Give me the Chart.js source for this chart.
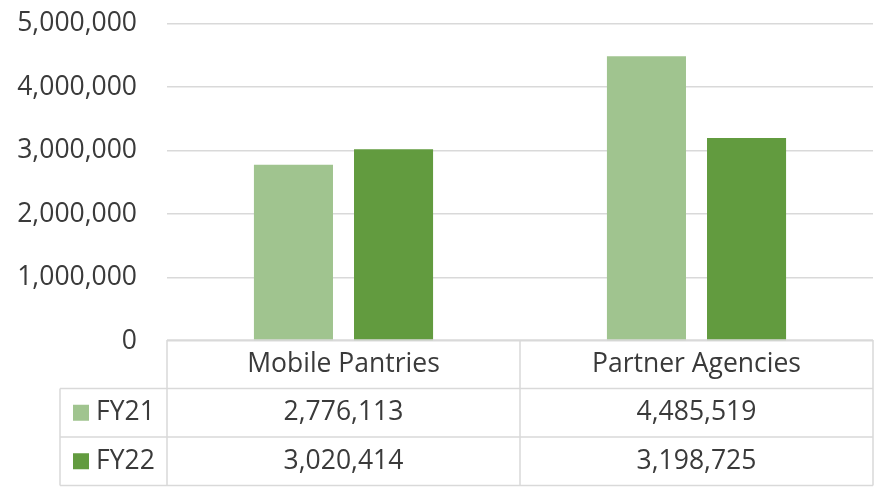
<!DOCTYPE html>
<html>
<head>
<meta charset="utf-8">
<script src="https://cdn.jsdelivr.net/npm/chart.js@4.4.1/dist/chart.umd.min.js"></script>
<style>
  html, body { margin: 0; padding: 0; background: #fff; }
  #wrap { width: 879px; height: 487px; position: relative; }
</style>
</head>
<body>
<div id="wrap"><canvas id="chart"></canvas></div>
<script>
// data
const categories = ['Mobile Pantries', 'Partner Agencies'];
const fy21 = [2776113, 4485519];
const fy22 = [3020414, 3198725];
const seriesNames = ['FY21', 'FY22'];
const colors = ['#a0c48f', '#629b3f'];
const yTicks = [0, 1000000, 2000000, 3000000, 4000000, 5000000];

const FONT = '"Open Sans", sans-serif';
const FSIZE = 26.5;
const TEXT = '#3a3a3a';
const LINE = '#d9d9d9';

// table under the plot (Excel data table)
const dataTable = {
  id: 'dataTable',
  afterDraw(chart) {
    const { ctx, chartArea } = chart;
    const x = chart.scales.x;
    const top = chartArea.bottom - 1;
    const rowH = 48.5;
    const r1 = top + rowH, r2 = r1 + rowH, r3 = r2 + rowH;
    const left = 60;
    const edges = [chartArea.left];
    for (let i = 0; i < categories.length - 1; i++) {
      edges.push((x.getPixelForValue(i) + x.getPixelForValue(i + 1)) / 2);
    }
    edges.push(chartArea.right);

    ctx.save();
    ctx.strokeStyle = LINE;
    ctx.lineWidth = 1.5;
    ctx.beginPath();
    ctx.moveTo(chartArea.left, top); ctx.lineTo(chartArea.right, top);
    [r1, r2, r3].forEach(y => { ctx.moveTo(left, y); ctx.lineTo(chartArea.right, y); });
    edges.forEach(ex => { ctx.moveTo(ex, top); ctx.lineTo(ex, r3); });
    ctx.moveTo(left, r1); ctx.lineTo(left, r3);
    ctx.stroke();

    ctx.font = FSIZE + 'px ' + FONT;
    ctx.fillStyle = TEXT;
    ctx.textBaseline = 'middle';
    ctx.textAlign = 'center';
    categories.forEach((c, i) => ctx.fillText(c, x.getPixelForValue(i), (top + r1) / 2));
    const rows = [fy21, fy22];
    rows.forEach((vals, j) => {
      const cy = top + rowH * (j + 1.5);
      ctx.textAlign = 'center';
      ctx.fillStyle = TEXT;
      vals.forEach((v, i) => ctx.fillText(v.toLocaleString('en-US'), x.getPixelForValue(i), cy));
      ctx.fillStyle = colors[j];
      ctx.fillRect(73, cy - 8, 16, 16);
      ctx.fillStyle = TEXT;
      ctx.textAlign = 'left';
      ctx.fillText(seriesNames[j], 96, cy);
    });
    ctx.restore();
  }
};

new Chart(document.getElementById('chart'), {
  type: 'bar',
  data: {
    labels: categories,
    datasets: [
      { label: seriesNames[0], data: fy21, backgroundColor: colors[0] },
      { label: seriesNames[1], data: fy22, backgroundColor: colors[1] },
    ],
  },
  options: {
    responsive: true, maintainAspectRatio: false, animation: false,
    categoryPercentage: 0.567, barPercentage: 0.79,
    layout: { padding: { top: 23.5, right: 6, bottom: 146, left: 0 } },
    plugins: { legend: { display: false }, tooltip: { enabled: false } },
    scales: {
      x: { display: false },
      y: {
        min: 0, max: 5000000,
        afterFit: (s) => { s.width = 167; s.paddingTop = 0; s.paddingBottom = 0; },
        afterBuildTicks: (s) => { s.ticks = yTicks.map(v => ({ value: v })); },
        border: { display: false },
        grid: { color: LINE, lineWidth: 1.5, drawTicks: false },
        ticks: { padding: 30, color: TEXT, font: { family: FONT, size: FSIZE },
          callback: (v) => v.toLocaleString('en-US') },
      },
    },
  },
  plugins: [dataTable],
});
</script>
</body>
</html>
